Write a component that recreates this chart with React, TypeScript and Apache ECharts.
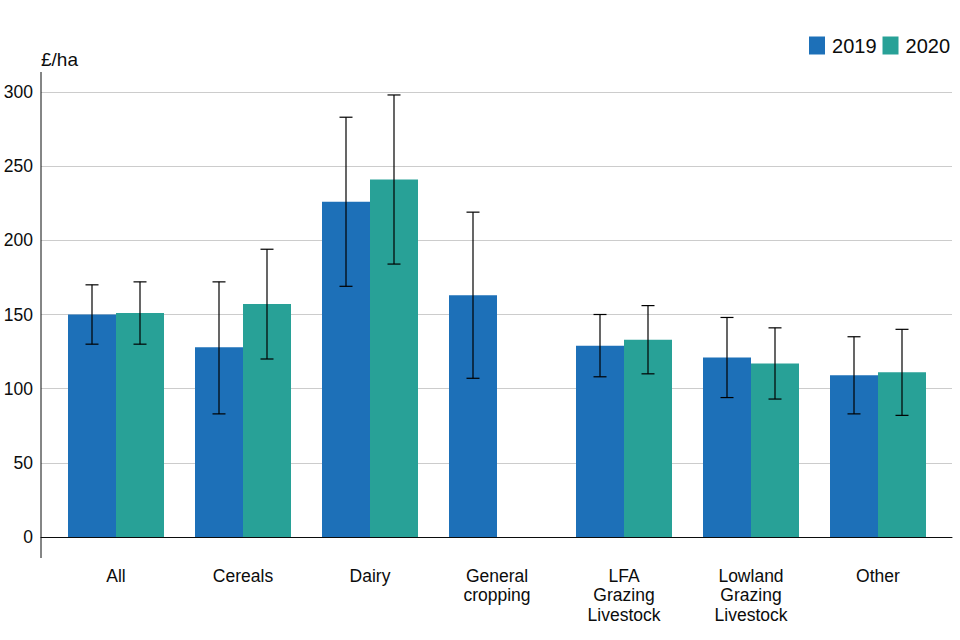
import React, { useEffect, useRef } from "react";
import * as echarts from "echarts";

const categories = [
  "All",
  "Cereals",
  "Dairy",
  "General\ncropping",
  "LFA\nGrazing\nLivestock",
  "Lowland\nGrazing\nLivestock",
  "Other",
];
const years = ["2019", "2020"];
const values2019 = [150, 128, 226, 163, 129, 121, 109];
const values2020: (number | null)[] = [151, 157, 241, null, 133, 117, 111];
const low2019 = [130, 83, 169, 107, 108, 94, 83];
const high2019 = [170, 172, 283, 219, 150, 148, 135];
const low2020: (number | null)[] = [130, 120, 184, null, 110, 93, 82];
const high2020: (number | null)[] = [172, 194, 298, null, 156, 141, 140];
const yTicks = { min: 0, max: 300, interval: 50 };

const COLORS = ["#1d70b8", "#28a197"];
const FONT = "'Liberation Sans', Arial, sans-serif";
const BAR_W = 48;

function errorData(low: (number | null)[], high: (number | null)[]) {
  return categories
    .map((_, i) => [i, low[i], high[i]])
    .filter((d) => d[1] != null && d[2] != null);
}

function makeErrorSeries(name: string, low: (number | null)[], high: (number | null)[], offset: number) {
  return {
    type: "custom",
    name: name + " error",
    xAxisIndex: 1,
    yAxisIndex: 1,
    silent: true,
    z: 10,
    data: errorData(low, high),
    renderItem: (params: any, api: any) => {
      const i = api.value(0);
      const lo = api.coord([i, api.value(1)]);
      const hi = api.coord([i, api.value(2)]);
      const x = lo[0] + offset;
      const cap = 6.5;
      const style = { stroke: "#000000", lineWidth: 1.2 };
      return {
        type: "group",
        children: [
          { type: "line", shape: { x1: x, y1: hi[1], x2: x, y2: lo[1] }, style },
          { type: "line", shape: { x1: x - cap, y1: hi[1], x2: x + cap, y2: hi[1] }, style },
          { type: "line", shape: { x1: x - cap, y1: lo[1], x2: x + cap, y2: lo[1] }, style },
        ],
      };
    },
  };
}

export default function App() {
  const ref = useRef<HTMLDivElement>(null);
  useEffect(() => {
    if (!ref.current) return;
    const chart = echarts.init(ref.current, undefined, { renderer: "svg" });
    chart.setOption({
      animation: false,
      textStyle: { fontFamily: FONT, color: "#0b0c0c" },
      legend: {
        data: years,
        right: 5,
        top: 30.5,
        itemWidth: 16,
        itemHeight: 18,
        itemGap: 6,
        icon: "rect",
        textStyle: { fontFamily: FONT, fontSize: 20, color: "#0b0c0c", padding: [0, 0, 0, 2] },
      },
      grid: [
        { left: 41, right: 8, top: 92, bottom: 103, containLabel: false },
        { left: 52.5, width: 889, top: 92, bottom: 103, containLabel: false },
      ],
      xAxis: [
        {
          type: "value",
          gridIndex: 0,
          min: 0,
          max: 1,
          axisLine: { show: true, onZero: false, lineStyle: { color: "#0b0c0c", width: 1 } },
          axisTick: { show: false },
          axisLabel: { show: false },
          splitLine: { show: false },
        },
        {
          type: "category",
          gridIndex: 1,
          data: categories,
          axisLine: { show: false },
          axisTick: { show: false },
          axisLabel: {
            fontFamily: FONT,
            fontSize: 17.5,
            lineHeight: 19.5,
            color: "#0b0c0c",
            margin: 29,
            interval: 0,
          },
        },
      ],
      yAxis: [
        {
          type: "value",
          gridIndex: 0,
          min: yTicks.min,
          max: yTicks.max,
          interval: yTicks.interval,
          name: "£/ha",
          nameLocation: "end",
          nameGap: 33,
          nameTextStyle: {
            fontFamily: FONT,
            fontSize: 19,
            color: "#0b0c0c",
            align: "left",
            verticalAlign: "middle",
          },
          axisLine: { show: false },
          axisTick: { show: false },
          axisLabel: { fontFamily: FONT, fontSize: 17.5, color: "#0b0c0c", margin: 8 },
          splitLine: { show: true, lineStyle: { color: "#cccccc", width: 1 } },
        },
        {
          type: "value",
          gridIndex: 1,
          min: yTicks.min,
          max: yTicks.max,
          interval: yTicks.interval,
          show: false,
          splitLine: { show: false },
        },
      ],
      graphic: [
        {
          type: "line",
          shape: { x1: 41, y1: 72, x2: 41, y2: 558 },
          style: { stroke: "#0b0c0c", lineWidth: 1 },
          z: 100,
        },
      ],
      series: [
        {
          type: "bar",
          name: years[0],
          xAxisIndex: 1,
          yAxisIndex: 1,
          data: values2019,
          barWidth: BAR_W,
          barGap: "0%",
          itemStyle: { color: COLORS[0] },
        },
        {
          type: "bar",
          name: years[1],
          xAxisIndex: 1,
          yAxisIndex: 1,
          data: values2020,
          barWidth: BAR_W,
          barGap: "0%",
          itemStyle: { color: COLORS[1] },
        },
        makeErrorSeries(years[0], low2019, high2019, -BAR_W / 2),
        makeErrorSeries(years[1], low2020, high2020, BAR_W / 2),
      ],
    });
    return () => chart.dispose();
  }, []);
  return <div ref={ref} style={{ width: 960, height: 640, position: "absolute", left: 0, top: 0 }} />;
}
